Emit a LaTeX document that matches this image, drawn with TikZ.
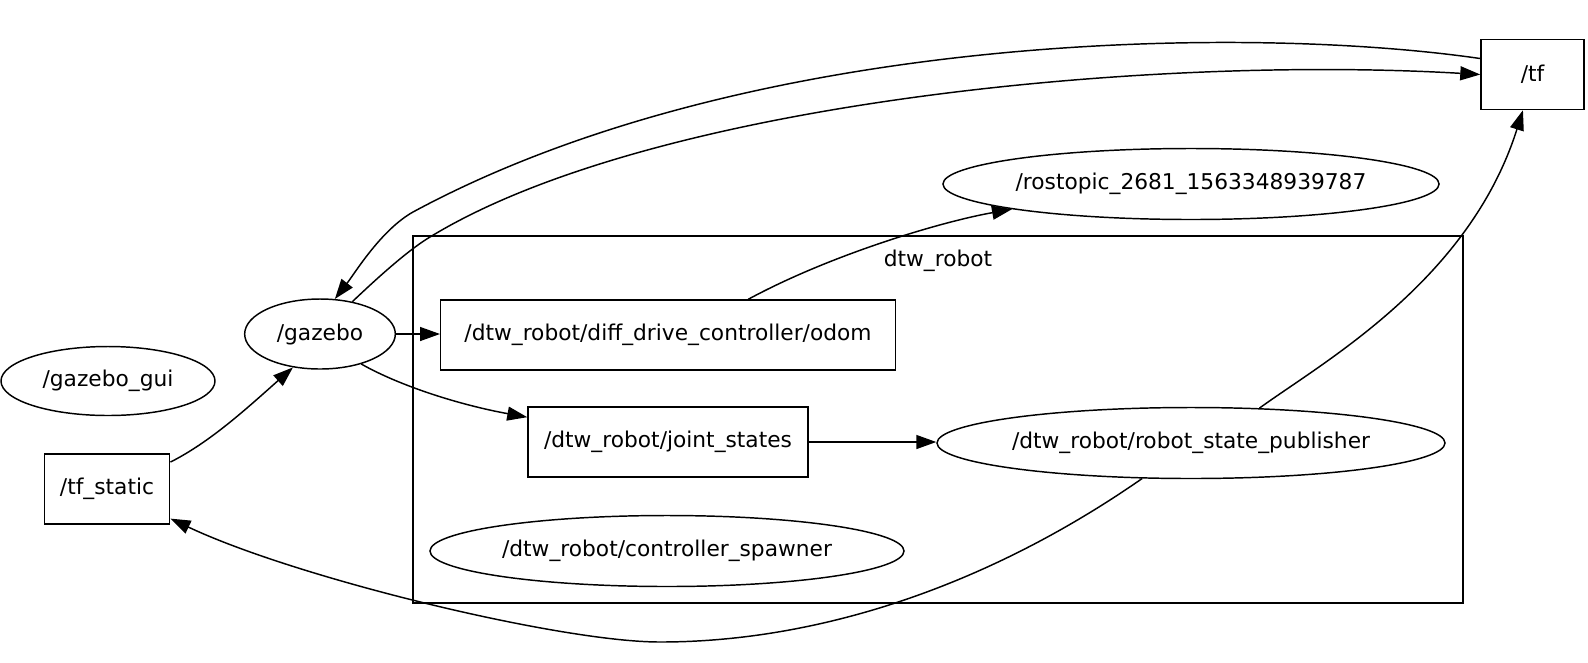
\documentclass[tikz,border=0pt]{standalone}
\usepackage{fontspec}
\setmainfont{DejaVu Sans}
\usetikzlibrary{shapes.geometric,arrows.meta}
\begin{document}
\begin{tikzpicture}[x=0.75pt,y=-0.75pt,
  every node/.style={font=\fontsize{16.3}{19}\selectfont},
  ell/.style={draw,ellipse,inner sep=0pt,line width=1.1pt},
  box/.style={draw,rectangle,inner sep=0pt,line width=1.1pt},
  conn/.style={line width=1.1pt,-{Triangle[length=15pt,width=10.5pt]}},
  clusterbox/.style={draw,line width=1.1pt}]
\useasboundingbox (0,0) rectangle (1588,662);
% cluster
\draw[clusterbox] (413,236) rectangle (1463,603);
\node (clabel) at (938,261) {dtw\_robot};
% nodes
\node[box,minimum width=77.25pt,minimum height=52.5pt] (tf) at (1532.5,74.5) {/tf};
\node[ell,minimum width=372pt,minimum height=53.25pt] (rostopic) at (1191,184) {/rostopic\_2681\_1563348939787};
\node[ell,minimum width=113pt,minimum height=52.5pt] (gazebo) at (320,334) {/gazebo};
\node[ell,minimum width=160.5pt,minimum height=51.75pt] (gui) at (108,381) {/gazebo\_gui};
\node[box,minimum width=94.1pt,minimum height=52.5pt] (tfs) at (107,489) {/tf\_static};
\node[box,minimum width=340.9pt,minimum height=52.5pt] (odom) at (668,335) {/dtw\_robot/diff\_drive\_controller/odom};
\node[box,minimum width=210pt,minimum height=52.5pt] (joint) at (668,442) {/dtw\_robot/joint\_states};
\node[ell,minimum width=381pt,minimum height=53.25pt] (rsp) at (1191,443) {/dtw\_robot/robot\_state\_publisher};
\node[ell,minimum width=355.5pt,minimum height=53.25pt] (spawner) at (667,551) {/dtw\_robot/controller\_spawner};
% edges
\draw[conn] (tf.163) .. controls (1250,25) and (750,30) .. (413,212)
  .. controls (381,230) and (355,273) .. (gazebo.67);
\draw[conn] (gazebo.45) .. controls (370,285) and (405,252) .. (430,237)
  .. controls (651,102) and (1150,55) .. (tf.west);
\draw[conn] (gazebo.east) -- (gazebo.east -| odom.west);
\draw[conn] (gazebo.-36) .. controls (400,386) and (460,405) .. (joint.170.7);
\draw[conn] (tfs.23) .. controls (210,442) and (245,410) .. (gazebo.-129.5);
\draw[conn] (odom.24.2) .. controls (830,255) and (940,222) .. (rostopic.188.5);
\draw[conn] (joint.east) -- (joint.east -| rsp.west);
\draw[conn] (rsp.27.6) .. controls (1323,362) and (1469,281) .. (tf.-105.2);
\draw[conn] (rsp.-144.4) .. controls (989,585) and (820,642) .. (660,642)
  .. controls (560,642) and (296,578) .. (tfs.-25);
\end{tikzpicture}
\end{document}
